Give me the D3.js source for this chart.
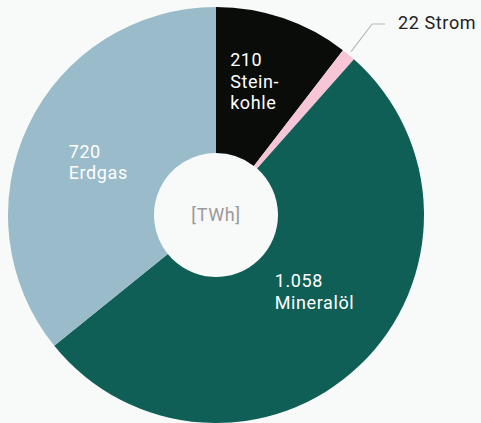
<!DOCTYPE html>
<html>
<head>
<meta charset="utf-8">
<script src="https://cdn.jsdelivr.net/npm/d3@7"></script>
<style>
  html, body { margin: 0; padding: 0; background: #f8f9f9; }
  svg { display: block; }
  text { font-family: Roboto, 'Open Sans', sans-serif; font-size: 18px; letter-spacing: 0.6px; }
</style>
</head>
<body>
<svg></svg>
<script>
const categories = ['Steinkohle', 'Strom', 'Mineralöl', 'Erdgas']
const values = [210, 22, 1058, 720]
const labelLines = [['210', 'Stein-', 'kohle'], ['22 Strom'], ['1.058', 'Mineralöl'], ['720', 'Erdgas']]
const colors = ['#0a0c0a', '#f6c6d7', '#0f5f56', '#99bbca']
const unit = '[TWh]'

const width = 481
const height = 423
const cx = 216
const cy = 215
const outerRadius = 208
const innerRadius = 62

const svg = d3.select('svg')
  .attr('width', width)
  .attr('height', height)

const g = svg.append('g')
  .attr('transform', `translate(${cx}, ${cy})`)

const data = categories.map((c, i) => ({ name: c, value: values[i], lines: labelLines[i], color: colors[i] }))

const pie = d3.pie()
  .sort(null)
  .value((d) => d.value)

const arc = d3.arc()
  .innerRadius(innerRadius)
  .outerRadius(outerRadius)

const arcs = pie(data)

// Slices
g.selectAll('.slice')
  .data(arcs)
  .enter().append('path')
  .attr('class', 'slice')
  .attr('d', arc)
  .attr('fill', (d) => d.data.color)

// Inner labels, placed around a label arc with small per-label nudges
const labelArc = d3.arc().innerRadius(140).outerRadius(140)
const nudge = {
  Steinkohle: [-31, -16],
  'Mineralöl': [-38, -29],
  Erdgas: [-21, 3]
}

arcs.filter((d) => nudge[d.data.name]).forEach((d) => {
  const [x, y] = labelArc.centroid(d)
  const [dx, dy] = nudge[d.data.name]
  g.append('text')
    .attr('x', x + dx)
    .attr('y', y + dy)
    .attr('fill', '#fff')
    .selectAll('tspan')
    .data(d.data.lines)
    .enter().append('tspan')
    .attr('x', x + dx)
    .attr('dy', (t, i) => i === 0 ? 0 : 21.5)
    .text((t) => t)
})

// Outside label for the thin slice
const strom = arcs[1]
const edge = d3.arc().innerRadius(outerRadius + 4).outerRadius(outerRadius + 4).centroid(strom)
const elbow = [edge[0] + 21, -191]
g.append('polyline')
  .attr('points', [edge, elbow, [elbow[0] + 13, elbow[1]]].map((p) => p.join(',')).join(' '))
  .attr('fill', 'none')
  .attr('stroke', '#b5b9ba')
  .attr('stroke-width', 1.2)

g.append('text')
  .attr('x', elbow[0] + 26)
  .attr('y', elbow[1] + 5)
  .attr('fill', '#222')
  .text(strom.data.lines[0])

// Centre hole label
g.append('text')
  .attr('x', 0)
  .attr('y', 6)
  .attr('text-anchor', 'middle')
  .attr('fill', '#9a9a9a')
  .text(unit)
</script>
</body>
</html>
